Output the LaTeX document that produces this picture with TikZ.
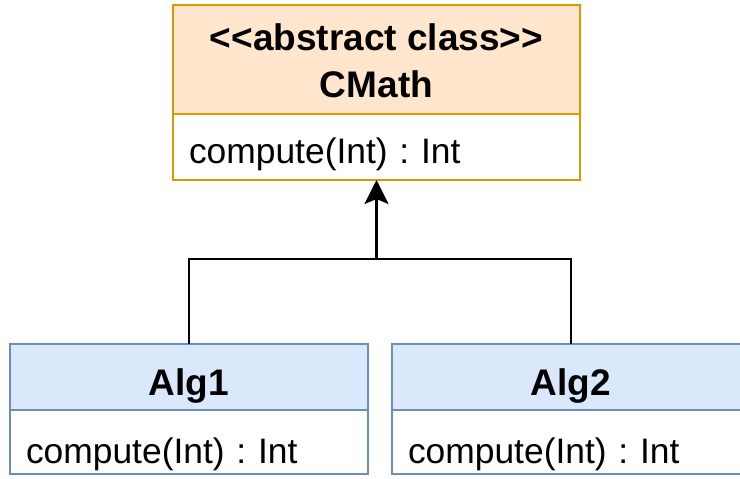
\documentclass[tikz,border=0pt]{standalone}
\usepackage{fontspec}
\setmainfont{Liberation Sans}
\usepackage{xcolor}
\usepackage{tikz}
\usetikzlibrary{arrows.meta,positioning}
\frenchspacing
\definecolor{absfill}{HTML}{FFE6CC}
\definecolor{absline}{HTML}{D79B00}
\definecolor{subfill}{HTML}{DAE8FC}
\definecolor{subline}{HTML}{6C8EBF}
\tikzset{
  classhead/.style={draw=subline,fill=subfill,line width=1pt,outer sep=0pt,
    align=center,font=\fontsize{18.5}{23.5}\selectfont\bfseries,
    text height=18pt,text depth=0pt,
    minimum width=179pt,minimum height=33pt},
  classbody/.style={draw=subline,fill=white,line width=1pt,outer sep=0pt,
    text width=179pt-16pt,inner xsep=8pt,align=left,
    text height=21pt,text depth=0pt,
    font=\fontsize{17.7}{21}\selectfont,minimum height=32pt},
  inherit/.style={line width=1.2pt,draw=black}
}
\begin{document}
\begin{tikzpicture}[x=0.5pt,y=-0.5pt]
\useasboundingbox[fill=white] (0,0) rectangle (740,478);
\node[classhead,draw=absline,fill=absfill,minimum width=203.5pt,minimum height=54.5pt,
  text height=37.5pt] (cmath) at (376.5,59.5) {<\kern0pt<abstract class>\kern0pt>\\CMath};
\node[classbody,draw=absline,text width=203.5pt-16pt,minimum height=33pt,text height=16pt,
  below=0pt of cmath] (cmathops) {compute(Int) : Int};
\node[classhead] (alg1) at (189,377) {Alg1};
\node[classbody,below=0pt of alg1] (alg1ops) {compute(Int) : Int};
\node[classhead] (alg2) at (571,377) {Alg2};
\node[classbody,below=0pt of alg2] (alg2ops) {compute(Int) : Int};
\coordinate (join) at (cmathops.south |- 0,259);
\draw[inherit] (alg1.north) |- (join) -| (alg2.north);
\draw[inherit,-{Stealth[length=12pt,width=12pt,inset=2.5pt]}] (join) -- (cmathops.south);
\end{tikzpicture}
\end{document}
